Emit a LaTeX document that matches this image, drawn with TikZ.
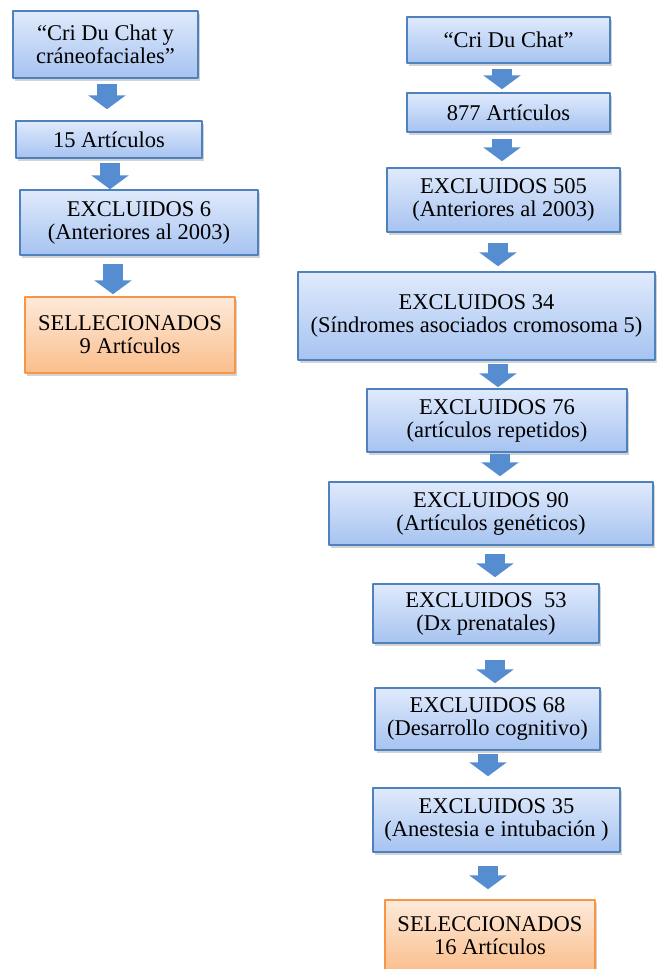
\documentclass[tikz,border=0pt]{standalone}
\usepackage{fontspec}
\setmainfont{Liberation Serif}
\usepackage{tikz}
\usetikzlibrary{arrows.meta}
\usetikzlibrary{shadows}
\definecolor{bordeazul}{RGB}{79,129,189}
\definecolor{azularriba}{RGB}{224,234,252}
\definecolor{azulabajo}{RGB}{166,195,240}
\definecolor{bordenaranja}{RGB}{247,150,70}
\definecolor{naranjaarriba}{RGB}{253,234,218}
\definecolor{naranjaabajo}{RGB}{250,190,140}
\definecolor{flechaazul}{RGB}{86,140,208}
\tikzset{
  caja/.style={rectangle, draw=bordeazul, line width=1.5pt, top color=azularriba, bottom color=azulabajo,
    drop shadow={shadow xshift=2pt, shadow yshift=-2.5pt, opacity=0.35}, align=center, inner sep=0pt,
    font=\fontsize{22.5}{23}\selectfont},
  cajanaranja/.style={caja, draw=bordenaranja, top color=naranjaarriba, bottom color=naranjaabajo},
  flecha/.style={line width=20pt, line cap=butt, color=flechaazul, -{Triangle[width=37pt,length=14pt]}}
}

\begin{document}
\begin{tikzpicture}[line cap=round,line join=round,x=1pt,y=-1pt]
            \useasboundingbox (0,0) rectangle (656,969);
            % columna izquierda
            \node[caja, minimum width=185pt, minimum height=67pt] (criy) at (105.5,44.5) {“Cri Du Chat y\\cráneofaciales”};
            \node[caja, minimum width=186pt, minimum height=37pt] (quince) at (109,139.5) {15 Artículos};
            \node[caja, minimum width=238pt, minimum height=65pt] (excl6) at (139,222.5) {EXCLUIDOS 6\\(Anteriores al 2003)};
            \node[cajanaranja, minimum width=210pt, minimum height=76pt] (sel9) at (130,335) {SELLECIONADOS\\9 Artículos};
            \draw[flecha, shorten <=5pt, shorten >=11pt] (criy.south -| 107,0) -- (quince.north -| 107,0);
            \draw[flecha, shorten <=4pt] (quince.south -| 110,0) -- (excl6.north -| 110,0);
            \draw[flecha, shorten <=8pt, shorten >=2pt] (excl6.south -| 113,0) -- (sel9.north -| 113,0);
            % columna derecha
            \node[caja, minimum width=203pt, minimum height=46pt] (cri) at (508.5,40) {“Cri Du Chat”};
            \node[caja, minimum width=203pt, minimum height=39pt] (ochocientos) at (508.5,112.5) {877 Artículos};
            \node[caja, minimum width=233pt, minimum height=64pt] (excl505) at (503.5,200) {EXCLUIDOS 505\\(Anteriores al 2003)};
            \node[caja, minimum width=357pt, minimum height=88pt] (excl34) at (476.5,316) {EXCLUIDOS 34\\(Síndromes asociados cromosoma 5)};
            \node[caja, minimum width=260pt, minimum height=63pt] (excl76) at (497,420.5) {EXCLUIDOS 76\\(artículos repetidos)};
            \node[caja, minimum width=324pt, minimum height=63pt] (excl90) at (491,513.5) {EXCLUIDOS 90\\(Artículos genéticos)};
            \node[caja, minimum width=226pt, minimum height=59pt] (excl53) at (486,613.5) {EXCLUIDOS~~53\\(Dx prenatales)};
            \node[caja, minimum width=225pt, minimum height=62pt] (excl68) at (487.5,719) {EXCLUIDOS 68\\(Desarrollo cognitivo)};
            \node[caja, minimum width=247pt, minimum height=64pt] (excl35) at (496.5,820) {EXCLUIDOS 35\\(Anestesia e intubación )};
            \node[cajanaranja, minimum width=210pt, minimum height=72pt] (sel16) at (490,936) {SELECCIONADOS\\16 Artículos};
            \draw[flecha, shorten <=5pt, shorten >=3pt] (cri.south -| 502,0) -- (ochocientos.north -| 502,0);
            \draw[flecha, shorten <=6pt, shorten >=6pt] (ochocientos.south -| 502,0) -- (excl505.north -| 502,0);
            \draw[flecha, shorten <=10pt, shorten >=5pt] (excl505.south -| 498,0) -- (excl34.north -| 498,0);
            \draw[flecha, shorten <=3pt, shorten >=1pt] (excl34.south -| 498,0) -- (excl76.north -| 498,0);
            \draw[flecha, shorten <=1pt, shorten >=5pt] (excl76.south -| 500,0) -- (excl90.north -| 500,0);
            \draw[flecha, shorten <=8pt, shorten >=6pt] (excl90.south -| 495,0) -- (excl53.north -| 495,0);
            \draw[flecha, shorten <=16pt, shorten >=4pt] (excl53.south -| 495,0) -- (excl68.north -| 495,0);
            \draw[flecha, shorten <=3pt, shorten >=11pt] (excl68.south -| 488,0) -- (excl35.north -| 488,0);
            \draw[flecha, shorten <=13pt, shorten >=10pt] (excl35.south -| 488,0) -- (sel16.north -| 488,0);
\end{tikzpicture}
\end{document}
